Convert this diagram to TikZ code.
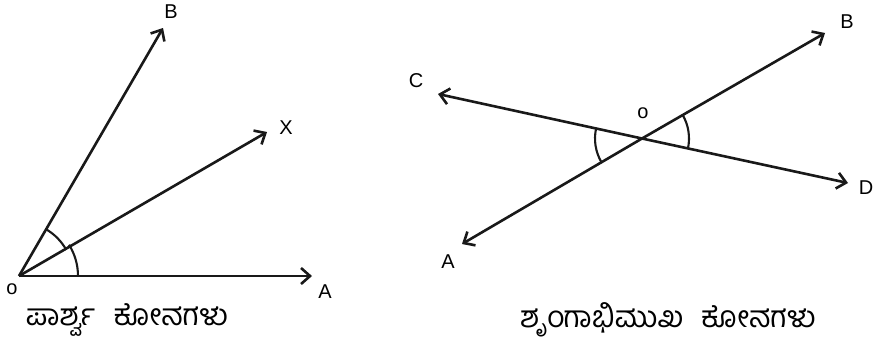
\documentclass[tikz,border=0pt]{standalone}
\usepackage{fontspec}
\setmainfont{Liberation Sans}
\newfontfamily\kannada[Script=Kannada]{Hind Mysuru}
\usetikzlibrary{arrows.meta}
\tikzset{
  ray/.style={line width=2.6pt, draw=black!90, -{Straight Barb[length=9pt,width=16pt,line width=2.6pt]}},
  angmark/.style={line width=2.1pt, draw=black!90},
  pointlabel/.style={font=\fontsize{20}{20}\selectfont, inner sep=0pt},
  caption/.style={font=\kannada\fontsize{30}{30}\selectfont, inner sep=0pt}
}
\begin{document}
\begin{tikzpicture}[x=1pt,y=-1pt]
\useasboundingbox (0,0) rectangle (877,351);

% ------------------------------------------------------------
% Adjacent angles
% ------------------------------------------------------------
\coordinate (o) at (19,276);
\coordinate (a) at (312,276);
\coordinate (x) at (267,132);
\coordinate (b) at (163,28);

\draw[ray] (o) -- (a);
\draw[ray] (o) -- (x);
\draw[ray] (o) -- (b);
\draw[angmark] (o) ++(0:59pt) arc[start angle=0, end angle=32, radius=59pt];
\draw[angmark] (o) ++(29:54pt) arc[start angle=29, end angle=60, radius=54pt];

\node[pointlabel] (lo) at (12,289) {o};
\node[pointlabel] (la) at (325,292) {A};
\node[pointlabel] (lx) at (286,128) {X};
\node[pointlabel] (lb) at (171,12) {B};

\node[caption] (adj) at (127,320) {ಪಾರ್ಶ್ವ\hspace{18pt}ಕೋನಗಳು};

% ------------------------------------------------------------
% Vertically opposite angles
% ------------------------------------------------------------
\coordinate (vo) at (642,138.5);
\coordinate (va) at (462,244);
\coordinate (vb) at (825,33);
\coordinate (vc) at (438,94);
\coordinate (vd) at (848,183);

\draw[ray] (vo) -- (va);
\draw[ray] (vo) -- (vb);
\draw[ray] (vo) -- (vc);
\draw[ray] (vo) -- (vd);
\draw[angmark] (vo) ++(167.8:47pt) arc[start angle=167.8, end angle=210.2, radius=47pt];
\draw[angmark] (vo) ++(-12.2:47pt) arc[start angle=-12.2, end angle=30.2, radius=47pt];

\node[pointlabel] (lvo) at (643,113) {o};
\node[pointlabel] (lva) at (448,262) {A};
\node[pointlabel] (lvb) at (847,22) {B};
\node[pointlabel] (lvc) at (416,81) {C};
\node[pointlabel] (lvd) at (866,188) {D};

\node[caption] (vert) at (668,320) {ಶೃಂಗಾಭಿಮುಖ\hspace{18pt}ಕೋನಗಳು};
\end{tikzpicture}
\end{document}
